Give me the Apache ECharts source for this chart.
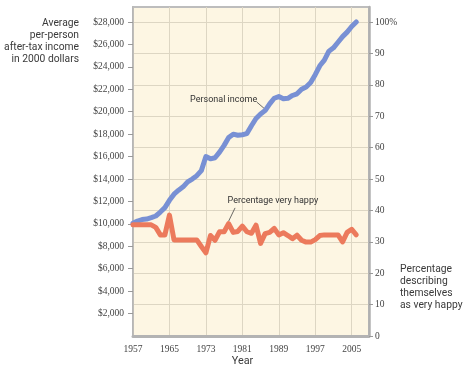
<!DOCTYPE html>
<html><head><meta charset="utf-8">
<script src="https://cdn.jsdelivr.net/npm/echarts@6/dist/echarts.min.js"></script>
<style>html,body{margin:0;padding:0;background:#fff}#c{width:470px;height:372px}</style>
</head><body><div id="c"></div>
<script>
// ---- data ----
const years = [1957,1958,1959,1960,1961,1962,1963,1964,1965,1966,1967,1968,1969,1970,1971,1972,1973,1974,1975,1976,1977,1978,1979,1980,1981,1982,1983,1984,1985,1986,1987,1988,1989,1990,1991,1992,1993,1994,1995,1996,1997,1998,1999,2000,2001,2002,2003,2004,2005,2006];
const income = [10050,10250,10380,10430,10550,10700,11050,11450,12100,12650,13000,13300,13750,14000,14300,14750,16000,15800,15900,16400,17000,17700,18000,17900,17950,18050,18750,19400,19800,20100,20700,21200,21350,21150,21200,21450,21600,22000,22200,22600,23300,24100,24600,25400,25700,26200,26700,27100,27600,28000];
const happy = [35.4,35.4,35.4,35.4,35.4,34.6,32.2,32.2,38.5,30.6,30.6,30.6,30.6,30.6,30.6,28.5,26.5,32.0,30.5,33.2,33.2,35.8,33.0,33.3,35.0,33.2,32.7,35.3,29.5,32.6,33.0,34.3,32.2,32.9,32.0,31.0,32.1,30.5,29.9,29.9,30.7,32.0,32.2,32.2,32.2,32.2,30.0,33.0,34.0,32.2];
const yearTicks = [1957,1965,1973,1981,1989,1997,2005];
const incomeTicks = [0,2000,4000,6000,8000,10000,12000,14000,16000,18000,20000,22000,24000,26000,28000];
const pctTicks = [0,10,20,30,40,50,60,70,80,90,100];
const leftTitle = 'Average\nper-person\nafter-tax income\nin 2000 dollars';
const rightTitle = 'Percentage\ndescribing\nthemselves\nas very happy';
const xTitle = 'Year';
const incomeLabel = 'Personal income';
const happyLabel = 'Percentage very happy';

function money(v){ return '$' + String(v).replace(/\B(?=(\d{3})+(?!\d))/g, ','); }

const textCol = '#3a3a3a';
const numFont = {fontFamily:'Liberation Serif', fontSize:9.5, color:'#444'};
const chart = echarts.init(document.getElementById('c'), null, {renderer:'canvas'});
chart.setOption({
  animation:false,
  backgroundColor:'#ffffff',
  grid:{left:133, right:101, top:7, bottom:36, show:true, backgroundColor:'#fdf6e3', borderColor:'#bdbdbd', borderWidth:2},
  xAxis:{type:'value', min:1957, max:2008.8, interval:8,
    axisLine:{show:true, lineStyle:{color:'#b3b3b3', width:3}},
    axisTick:{show:false},
    axisLabel:Object.assign({margin:8, showMaxLabel:false, formatter:v=>yearTicks.includes(v)?String(v):''}, numFont),
    splitLine:{show:true, lineStyle:{color:'#ddd6c3', width:1}}},
  yAxis:[
    {type:'value', min:0, max:29340, position:'left',
      axisLine:{show:true, lineStyle:{color:'#b5b5b5', width:1.5}},
      axisTick:{show:true, length:5, inside:false, customValues:incomeTicks.slice(1), lineStyle:{color:'#999'}},
      axisLabel:Object.assign({margin:9, customValues:incomeTicks.slice(1), formatter:v=>money(v)}, numFont),
      splitLine:{show:false}},
    {type:'value', min:0, max:104.78, position:'right',
      axisLine:{show:true, lineStyle:{color:'#b0b0b0', width:2.5}},
      axisTick:{show:true, length:4, customValues:pctTicks, lineStyle:{color:'#999'}},
      axisLabel:Object.assign({margin:6, customValues:pctTicks, formatter:v=>v===100?'100%':String(v)}, numFont),
      splitLine:{show:true, lineStyle:{color:'#ddd6c3', width:1}}}
  ],
  series:[
    {name:incomeLabel, type:'line', yAxisIndex:0, showSymbol:false, smooth:false,
      lineStyle:{color:'#7890d4', width:5, cap:'round', join:'round'},
      data:years.map((y,i)=>[y,income[i]])},
    {name:happyLabel, type:'line', yAxisIndex:1, showSymbol:false,
      lineStyle:{color:'#ec7a5c', width:5, cap:'round', join:'round'},
      data:years.map((y,i)=>[y,happy[i]])}
  ]
});

const p = (x,y,idx)=>chart.convertToPixel({xAxisIndex:0, yAxisIndex:idx}, [x,y]);
const t1 = p(1976.9, 21050, 0), l1a = p(1984.2, 20850, 0), l1b = p(1986.2, 20150, 0);
const t2 = p(1987.7, 43.1, 1), l2a = p(1979.4, 40.8, 1), l2b = p(1978.0, 36.6, 1);
const annoFont = {fontFamily:'Roboto', fontSize:9, fill:'#333'};
chart.setOption({graphic:[
  {type:'text', x:79, y:18, style:{text:leftTitle, align:'right', verticalAlign:'top', fontFamily:'Roboto', fontSize:10.3, lineHeight:11.7, fill:textCol}},
  {type:'text', x:400, y:264, style:{text:rightTitle, align:'left', verticalAlign:'top', fontFamily:'Roboto', fontSize:10.3, lineHeight:11.7, fill:textCol}},
  {type:'text', x:242.5, y:361.5, style:{text:xTitle, align:'center', verticalAlign:'middle', fontFamily:'Roboto', fontSize:10.8, fill:textCol}},
  {type:'text', x:t1[0], y:t1[1], style:Object.assign({text:incomeLabel, align:'center', verticalAlign:'middle'}, annoFont)},
  {type:'line', shape:{x1:l1a[0], y1:l1a[1], x2:l1b[0], y2:l1b[1]}, style:{stroke:'#444', lineWidth:0.8}},
  {type:'text', x:t2[0], y:t2[1], style:Object.assign({text:happyLabel, align:'center', verticalAlign:'middle'}, annoFont)},
  {type:'line', shape:{x1:l2a[0], y1:l2a[1], x2:l2b[0], y2:l2b[1]}, style:{stroke:'#444', lineWidth:0.8}}
]});
</script></body></html>
